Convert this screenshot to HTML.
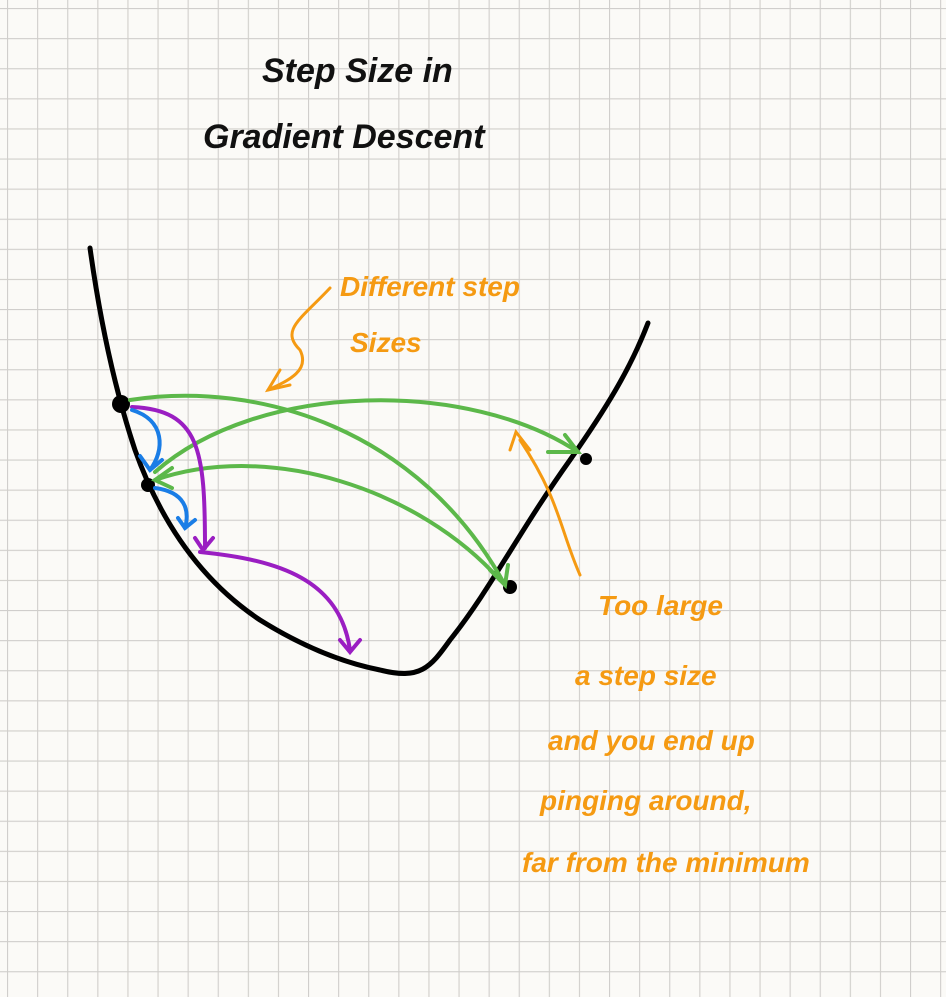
<!DOCTYPE html>
<html><head><meta charset="utf-8"><style>
html,body{margin:0;padding:0;background:#fbfaf7;}
svg{display:block;}
text{font-family:"Liberation Sans",sans-serif;font-style:italic;font-weight:bold;}
</style></head><body>
<svg width="946" height="997" viewBox="0 0 946 997">
<defs>
<pattern id="grid" x="7" y="8" width="30.1" height="30.1" patternUnits="userSpaceOnUse">
<path d="M0 0H30.1M0 0V30.1" stroke="#d0cecb" stroke-width="2.2" fill="none"/>
</pattern>
</defs>
<rect width="946" height="997" fill="#fbfaf7"/>
<rect width="946" height="997" fill="url(#grid)"/>

<g fill="#111" font-size="34">
<text x="262" y="82">Step Size in</text>
<text x="203" y="148">Gradient  Descent</text>
</g>

<path d="M90 248 C100 320,115 390,135 450 C160 520,200 580,260 620 C300 645,340 662,380 670 C420 680,430 668,450 640 C490 590,520 530,570 460 C605 410,630 370,648 323" fill="none" stroke="#000" stroke-width="5" stroke-linecap="round"/>

<g fill="#000">
<circle cx="121" cy="404" r="9"/>
<circle cx="148" cy="485" r="7"/>
<circle cx="510" cy="587" r="7"/>
<circle cx="586" cy="459" r="6"/>
</g>

<g fill="none" stroke="#5cb84a" stroke-width="4" stroke-linecap="round">
<path d="M130 400 C260 380,420 430,505 585"/>
<path d="M490 570 L505 585 L508 565"/>
<path d="M155 472 C260 380,470 380,578 452"/>
<path d="M548 452 L578 452 L565 435"/>
<path d="M500 580 C420 490,270 440,155 480"/>
<path d="M172 468 L155 480 L172 488"/>
</g>

<g fill="none" stroke="#9a1ec2" stroke-width="4" stroke-linecap="round">
<path d="M132 407 C200 410,205 450,205 548"/>
<path d="M195 538 L203 550 L213 538"/>
<path d="M200 552 C280 560,340 580,350 650"/>
<path d="M340 640 L350 652 L360 640"/>
</g>

<g fill="none" stroke="#1a7de6" stroke-width="4" stroke-linecap="round">
<path d="M132 410 C165 420,165 450,150 470"/>
<path d="M140 456 L150 470 L162 460"/>
<path d="M155 488 C185 492,190 510,185 528"/>
<path d="M178 518 L185 528 L195 520"/>
</g>

<g fill="none" stroke="#f59a12" stroke-width="3" stroke-linecap="round">
<path d="M330 288 C300 320,280 330,300 350 C310 370,290 380,268 390"/>
<path d="M280 370 L268 390 L290 385"/>
<path d="M580 575 C560 530,560 500,520 440"/>
<path d="M510 450 L516 432 L530 450"/>
</g>

<g fill="#f59a12" font-size="28">
<text x="340" y="296">Different step</text>
<text x="350" y="352">Sizes</text>
<text x="598" y="615">Too large</text>
<text x="575" y="685">a step size</text>
<text x="548" y="750">and you end up</text>
<text x="540" y="810">pinging around,</text>
<text x="522" y="872">far from the minimum</text>
</g>
</svg>
</body></html>
